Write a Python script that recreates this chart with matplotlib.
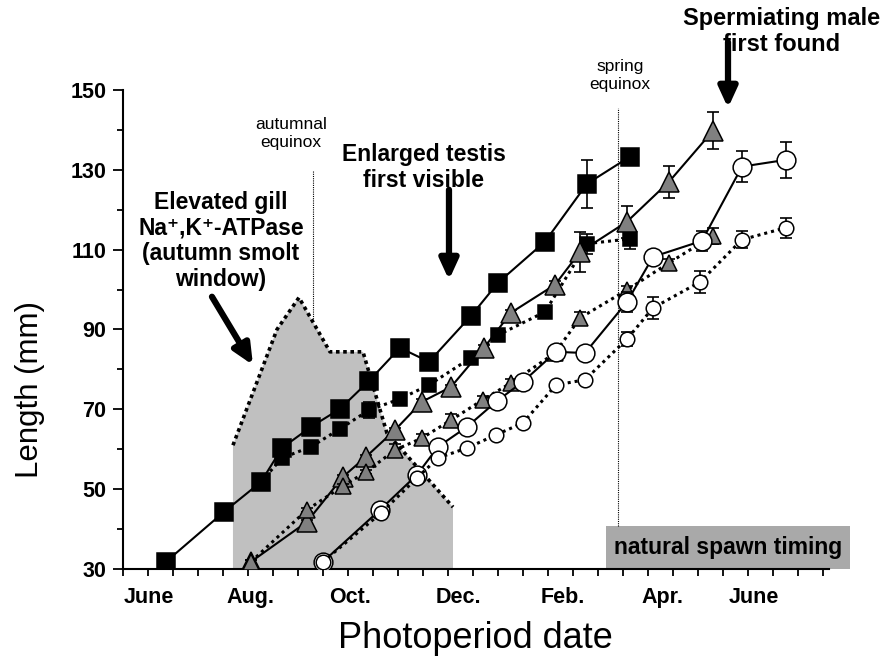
import matplotlib
matplotlib.use("Agg")
import matplotlib.pyplot as plt

plt.rcParams['font.family'] = ['Liberation Sans', 'DejaVu Sans']

# x = months since June 1 (photoperiod date), y = length (mm)
month_labels = ['June', 'Aug.', 'Oct.', 'Dec.', 'Feb.', 'Apr.', 'June']
month_label_pos = [0.52, 2.55, 4.55, 6.7, 8.8, 10.78, 12.62]

# large black squares, solid
a_x = [0.86, 2.02, 2.76, 3.18, 3.76, 4.34, 4.92, 5.54, 6.12, 6.96, 7.50, 8.44, 9.28, 10.14]
a_y = [31.8, 44.3, 51.8, 60.3, 65.6, 70.1, 77.1, 85.4, 81.9, 93.4, 101.7, 112.0, 126.5, 133.3]
a_e = [0.5, 0.5, 0.5, 0.5, 0.5, 0.5, 0.5, 0.5, 0.5, 1.0, 1.5, 1.0, 6.0, 1.0]
# small black squares, dotted
b_x = [2.76, 3.18, 3.76, 4.34, 4.92, 5.54, 6.12, 6.96, 7.50, 8.44, 9.28, 10.14]
b_y = [51.8, 57.8, 60.6, 65.1, 69.8, 72.6, 76.1, 82.9, 88.6, 94.4, 111.5, 112.7]
b_e = [0.5, 0.5, 0.5, 0.8, 2.0, 1.5, 1.0, 1.5, 0.5, 0.8, 2.5, 2.5]
# large grey triangles, solid
c_x = [2.56, 3.68, 4.40, 4.86, 5.44, 5.98, 6.56, 7.22, 7.76, 8.64, 9.14, 10.08, 10.92, 11.8]
c_y = [31.8, 41.8, 53.1, 58.1, 64.8, 71.9, 75.6, 85.4, 94.2, 101.2, 109.4, 117.0, 127.0, 139.8]
c_e = [0.5, 0.5, 0.5, 0.5, 0.5, 0.8, 0.5, 0.8, 0.8, 1.0, 5.0, 4.0, 4.0, 4.7]
# small grey triangles, dotted
d_x = [2.56, 3.68, 4.40, 4.86, 5.44, 5.98, 6.56, 7.20, 7.76, 8.64, 9.14, 10.08, 10.92, 11.8]
d_y = [31.8, 44.8, 50.8, 54.3, 59.8, 62.8, 67.3, 72.4, 76.6, 84.1, 92.9, 99.9, 106.7, 113.5]
d_e = [0.5, 0.5, 0.5, 0.5, 1.5, 1.0, 1.5, 1.0, 1.0, 1.0, 1.5, 1.0, 1.0, 2.0]
# large white circles, solid
e_x = [4.0, 5.14, 5.88, 6.3, 6.88, 7.48, 8.0, 8.66, 9.24, 10.08, 10.6, 11.58, 12.38, 13.26]
e_y = [31.8, 44.8, 53.6, 60.6, 65.6, 72.1, 76.9, 84.4, 84.1, 96.9, 108.2, 112.2, 130.8, 132.5]
e_e = [0.5, 0.5, 0.5, 0.5, 0.5, 0.5, 0.5, 0.5, 0.5, 2.5, 1.0, 2.5, 3.9, 4.5]
# small white circles, dotted
f_x = [4.0, 5.16, 5.88, 6.3, 6.88, 7.46, 8.0, 8.66, 9.24, 10.08, 10.6, 11.54, 12.38, 13.26]
f_y = [31.8, 44.0, 52.8, 57.8, 60.3, 63.6, 66.6, 76.1, 77.4, 87.6, 95.4, 101.9, 112.5, 115.5]
f_e = [0.5, 0.5, 0.5, 0.5, 0.5, 1.0, 1.0, 0.5, 1.0, 1.8, 2.8, 2.7, 2.2, 2.5]

# smolt window (gill ATPase) outline
smolt_x = [2.2, 2.2, 3.08, 3.52, 4.14, 4.8, 5.28, 6.6, 6.6]
smolt_y = [30, 61, 90, 98, 84.4, 84.4, 64, 45.5, 30]

dots = (0, (1, 1.3))

fig = plt.figure(figsize=(8.91, 6.65), dpi=100)
ax = fig.add_axes([0.138, 0.1444, 0.816, 0.7203])

ax.fill(smolt_x, smolt_y, color='#c0c0c0', lw=0, zorder=1)
ax.plot(smolt_x[1:-1], smolt_y[1:-1], color='black', ls=(0, (1, 1)), lw=2.6, zorder=2)

# equinox lines
ax.plot([3.8, 3.8], [92, 130], color='black', ls=(0, (1, 1)), lw=0.8, zorder=2)
ax.plot([9.9, 9.9], [40.8, 145.5], color='black', ls=(0, (1, 1)), lw=0.8, zorder=2)

# spawn timing box
ax.fill([9.66, 14.54, 14.54, 9.66], [30, 30, 40.8, 40.8], color='#a9a9a9', lw=0, zorder=1, clip_on=False)
ax.text(12.1, 35.4, 'natural spawn timing', ha='center', va='center', fontsize=16.5, fontweight='bold', zorder=3)

series = [
    (a_x, a_y, a_e, 's', 13, 'black', '-', 1.5),
    (b_x, b_y, b_e, 's', 10, 'black', dots, 2.2),
    (c_x, c_y, c_e, '^', 14, '#808080', '-', 1.5),
    (d_x, d_y, d_e, '^', 12, '#808080', dots, 2.2),
    (e_x, e_y, e_e, 'o', 13.5, 'white', '-', 1.5),
    (f_x, f_y, f_e, 'o', 10.5, 'white', dots, 2.2),
]
for i, (x, y, e, m, ms, fc, ls, lw) in enumerate(series):
    ax.errorbar(x, y, yerr=e, fmt='none', ecolor='black', elinewidth=1.2, capsize=4, capthick=1.2, zorder=4 + i)
    ax.plot(x, y, color='black', ls=ls, lw=lw, marker=m, ms=ms, mfc=fc, mec='black', mew=1.1, zorder=4 + i)

ax.set_xlim(0, 14.54)
ax.set_ylim(30, 150)
ax.spines['top'].set_visible(False)
ax.spines['right'].set_visible(False)
ax.spines['bottom'].set_bounds(0, 14.12)
ax.spines['left'].set_linewidth(1.5)
ax.spines['bottom'].set_linewidth(1.5)

ax.set_yticks(range(30, 151, 20))
ax.set_yticks(range(40, 141, 20), minor=True)
ax.set_yticklabels([str(v) for v in range(30, 151, 20)], fontsize=15.5, fontweight='bold')
ax.tick_params(axis='y', which='major', length=7, width=1.3, direction='out', pad=5)
ax.tick_params(axis='y', which='minor', length=4, width=1.3, direction='out')

ax.set_xticks([i * 0.5 for i in range(29)], minor=True)
ax.set_xticks(month_label_pos)
ax.set_xticklabels(month_labels, fontsize=15.5, fontweight='bold')
ax.tick_params(axis='x', which='major', length=0, pad=13)
ax.tick_params(axis='x', which='minor', length=5, width=1.3, direction='out')

fig.text(0.034, 0.415, 'Length (mm)', rotation=90, ha='center', va='center', fontsize=22.5)
fig.text(0.534, 0.04, 'Photoperiod date', ha='center', va='center', fontsize=26)

# annotations
ax.text(3.36, 139.0, 'autumnal\nequinox', ha='center', va='center', fontsize=12.5, linespacing=1.25)
ax.text(9.94, 153.6, 'spring\nequinox', ha='center', va='center', fontsize=12.5, linespacing=1.25, clip_on=False)
ax.text(6.01, 130.5, 'Enlarged testis\nfirst visible', ha='center', va='center', fontsize=16.5,
        fontweight='bold', linespacing=1.15)
ax.text(1.96, 112.2, 'Elevated gill\nNa\u207a,K\u207a-ATPase\n(autumn smolt\nwindow)', ha='center', va='center',
        fontsize=16.5, fontweight='bold', linespacing=1.15)
ax.text(13.18, 164.6, 'Spermiating male\nfirst found', ha='center', va='center', fontsize=17,
        fontweight='bold', linespacing=1.15, clip_on=False)

arrow = dict(arrowstyle='-|>,head_width=0.55,head_length=1.2', color='black', lw=4.5, shrinkA=0, shrinkB=0)
ax.annotate('', xy=(6.52, 102.4), xytext=(6.52, 125.0), arrowprops=arrow)
ax.annotate('', xy=(2.6, 81.1), xytext=(1.78, 98.2), arrowprops=arrow)
ax.annotate('', xy=(12.1, 145.5), xytext=(12.1, 162.0), arrowprops=arrow, annotation_clip=False)

fig.savefig('out.png', dpi=100)
